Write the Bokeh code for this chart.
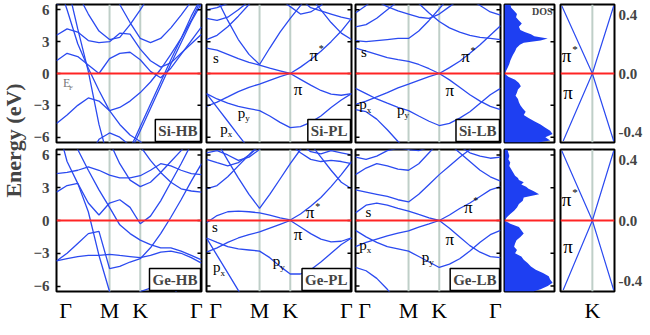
from bokeh.plotting import figure
from bokeh.layouts import row, column
from bokeh.models import Span, Label, FixedTicker, LinearAxis, PrintfTickFormatter
from bokeh.embed import file_html
from bokeh.resources import INLINE

# ---------------- data ----------------
K_PATH = [0.0, 0.115, 0.231, 0.346, 0.462, 0.577, 0.688, 0.800, 0.911,
          1.022, 1.133, 1.244, 1.355, 1.466, 1.577]
K_M, K_K, K_END = 0.577, 0.911, 1.577
HS_TICKS = [0.10, 0.577, 0.911, 1.52]
HS_LABELS = ["Γ", "M", "K", "Γ"]
E_TICKS = [-6, -3, 0, 3, 6]
E_LIM = 6.5

SI_HB = [
    [10, 8.5, 4.2, 0.2, -4.8, -8.5, -9, -9, -9, -9, -9, -9, -9, -9, -9],
    [1.2, 1.9, 1.6, 0.8, 0.0, 1.4, 1.9, 2.0, 1.3, 0.2, -0.4, 0.5, 1.8, 3.1, 4.4],
    [3.6, 4.2, 3.9, 3.1, 2.9, 3.0, 3.8, 3.7, 2.3, 1.2, 0.6, 1.0, 1.9, 2.8, 3.7],
    [-4.7, -3.9, -3.0, -2.3, -2.6, -3.5, -3.2, -2.6, -1.8, -0.8, 0.4, 1.8, 3.3, 5.0, 7.0],
    [9, 6.0, 2.8, 0.5, -1.6, -3.5, -4.8, -5.8, -6.4, -7.5, -9, -9, -9, -9, -9],
    [-9, -9, -9, -9, -9, -9, -9, -7.1, -5.0, -2.9, -0.8, 1.3, 3.3, 5.4, 7.2],
    [-9, -9, -9, -9, -9, -9, -9, -7.5, -5.4, -3.3, -1.2, 0.9, 2.9, 4.9, 6.6],
    [6.5, 6.8, 7.5, 8.5, 9, 8, 6.5, 4.8, 3.3, 2.9, 3.3, 4.3, 5.5, 6.8, 8],
    [9, 9, 7.5, 5.6, 4.0, 3.2, 3.4, 4.6, 6.0, 7.5, 9, 9, 9, 9, 9],
    [-9, -9, -9, -8, -6.2, -5.6, -6.0, -6.8, -7.5, -9, -9, -9, -9, -9, -9],
]
SI_PL = [
    [2.4, 2.2, 1.8, 1.4, 1.05, 0.8, 0.5, 0.25, 0.0, 0.6, 1.3, 2.1, 3.0, 4.0, 5.2],
    [9, 7.0, 5.0, 3.2, 1.8, 0.85, 2.4, 3.9, 5.2, 6.4, 7.6, 9, 9, 9, 9],
    [-3.1, -2.7, -2.2, -1.7, -1.3, -1.0, -0.65, -0.3, 0.0, -0.55, -1.1, -1.6, -1.95, -2.05, -1.9],
    [-1.9, -2.4, -2.8, -3.1, -3.3, -3.5, -4.0, -4.6, -5.1, -5.0, -4.6, -4.0, -3.2, -2.5, -1.9],
    [-1.9, -3.2, -4.5, -5.8, -7.1, -8.4, -9.5, -9.5, -9.5, -9.5, -9.5, -9.5, -9.5, -9.5, -9.5],
    [3.2, 3.6, 4.4, 5.4, 6.5, 7.5, 8, 8, 8, 8, 7.2, 6.0, 4.8, 3.8, 3.2],
    [5.2, 5.0, 5.3, 6.0, 6.8, 7.5, 8, 8, 8, 7.0, 6.2, 5.9, 5.6, 5.3, 5.1],
    [6.0, 6.2, 6.6, 7.5, 8, 8, 8, 7.0, 6.3, 5.6, 5.8, 6.4, 7.5, 8, 8],
]
SI_LB = [
    [2.4, 2.1, 1.8, 1.5, 1.3, 1.15, 0.85, 0.45, 0.0, 0.55, 1.15, 1.9, 2.7, 3.6, 4.5],
    [3.1, 3.0, 3.1, 3.2, 3.3, 3.3, 4.0, 5.0, 6.1, 7.2, 8, 8, 8, 8, 8],
    [-2.9, -2.6, -2.2, -1.8, -1.35, -1.0, -0.65, -0.3, 0.0, -0.6, -1.3, -2.0, -2.6, -3.1, -3.4],
    [-1.4, -1.9, -2.4, -2.8, -3.2, -3.5, -4.0, -4.5, -4.9, -4.7, -4.2, -3.6, -2.8, -2.0, -1.4],
    [-3.4, -3.6, -4.3, -5.3, -6.4, -7.5, -9, -9, -9, -9, -9, -9, -9, -9, -9],
    [5.7, 6.4, 7.2, 8, 8, 8, 8, 8, 8, 8, 8, 8, 8, 8, 8],
    [8, 7, 6.8, 6.3, 5.9, 5.6, 5.3, 5.2, 5.6, 6.3, 7, 7, 6.4, 5.8, 5.5],
    [4.4, 4.6, 5.2, 6.0, 6.8, 7.5, 6.6, 5.7, 4.9, 4.3, 3.9, 3.6, 3.4, 3.3, 3.2],
]
GE_HB = [
    [4.3, 4.4, 4.6, 4.9, 4.6, 4.15, 3.9, 3.9, 4.1, 4.6, 5.2, 5.0, 4.6, 4.3, 4.2],
    [2.6, 3.2, 3.4, 1.6, 0.5, 1.6, 1.9, 1.2, -0.3, 0.4, 1.8, 3.5, 5.2, 7.0, 9.0],
    [-3.7, -3.0, -2.1, -1.2, -1.0, -4.4, -4.2, -3.8, -3.5, -2.5, -1.2, 0.3, 1.9, 3.6, 5.2],
    [9, 5.4, 3.4, 0.8, -3.2, -6.5, -9, -9, -9, -9, -9, -9, -9, -9, -9],
    [9, 8.2, 6.5, 4.6, 2.8, 1.2, -0.4, -1.2, -1.8, -2.2, -2.5, -2.5, -2.8, -3.2, -3.6],
    [6.6, 6.9, 7.5, 8, 8, 7.2, 5.2, 3.7, 3.1, 3.5, 4.4, 5.4, 6.4, 7.5, 9],
    [9, 9, 9, 9, 9, 9, 9, 8, 6.8, 5.5, 4.4, 3.5, 2.9, 2.7, 2.6],
    [-3.7, -3.5, -3.3, -3.2, -3.2, -3.1, -3.2, -3.3, -3.4, -3.2, -2.9, -2.8, -3.0, -3.4, -3.9],
    [-9, -9, -9, -9, -9, -9, -9, -9, -6.5, -6.2, -5.7, -6.0, -7, -9, -9],
]
GE_PL = [
    [-0.2, 0.45, 0.8, 0.85, 0.8, 0.7, 0.5, 0.25, 0.05, 0.6, 1.3, 2.1, 3.1, 4.2, 5.4],
    [9, 7.2, 5.5, 3.9, 2.4, 1.1, 2.4, 3.8, 5.2, 6.5, 7.8, 9, 9, 9, 9],
    [-2.9, -2.5, -2.0, -1.6, -1.3, -1.05, -0.7, -0.35, 0.0, -0.6, -1.2, -1.7, -1.95, -1.9, -1.6],
    [-1.6, -2.0, -2.4, -2.6, -2.7, -2.8, -3.4, -4.2, -4.9, -4.9, -4.5, -3.8, -3.0, -2.2, -1.6],
    [-1.6, -3.2, -4.8, -6.4, -8, -9.5, -9.5, -9.5, -9.5, -9.5, -9.5, -9.5, -9.5, -9.5, -9.5],
    [2.9, 3.2, 4.0, 5.0, 6.0, 7, 8, 8, 8, 8, 7, 5.8, 4.6, 3.5, 2.9],
    [5.6, 5.3, 5.0, 5.3, 6.0, 6.8, 7.5, 7.5, 7, 6.2, 5.6, 5.4, 5.5, 5.4, 5.2],
    [6.2, 6.4, 6.0, 5.5, 5.8, 6.5, 7.5, 8, 8, 7, 6.3, 6.1, 6.4, 6.2, 6.0],
]
GE_LB = [
    [0.7, 1.4, 1.6, 1.4, 1.1, 0.85, 0.55, 0.25, 0.0, 0.5, 1.1, 1.6, 2.2, 2.8, 3.1],
    [2.8, 2.6, 2.4, 2.2, 1.9, 1.7, 2.4, 3.3, 4.2, 5.0, 5.8, 6.5, 7.5, 8, 8],
    [-2.4, -2.0, -1.7, -1.4, -1.15, -0.95, -0.6, -0.3, 0.0, -0.7, -1.5, -2.3, -2.9, -3.3, -3.4],
    [-0.9, -1.5, -2.0, -2.4, -2.6, -2.8, -3.3, -3.8, -4.3, -4.0, -3.5, -2.8, -2.0, -1.3, -0.9],
    [-4.3, -4.6, -5.3, -6.3, -7.5, -9, -9, -9, -9, -9, -9, -9, -9, -9, -9],
    [4.2, 4.8, 5.2, 5.0, 4.7, 4.6, 5.2, 6.2, 7.2, 7, 6.2, 5.4, 4.6, 4.0, 3.6],
    [5.8, 5.6, 5.9, 6.4, 6.6, 6.5, 6.4, 6.7, 7.5, 7.5, 6.8, 6.2, 5.9, 5.7, 5.8],
]

DOS_E = [6.5, 6.2, 5.9, 5.6, 5.3, 5.0, 4.7, 4.4, 4.1, 3.9, 3.7, 3.5, 3.3, 3.1, 2.9,
         2.7, 2.4, 2.1, 1.8, 1.5, 1.2, 0.9, 0.6, 0.3, 0.0, -0.3, -0.6, -0.9, -1.2,
         -1.5, -1.8, -2.1, -2.4, -2.7, -3.0, -3.3, -3.6, -3.9, -4.2, -4.5, -4.8,
         -5.1, -5.4, -5.7, -6.0, -6.3, -6.5]
DOS_SI = [0.12, 0.14, 0.2, 0.26, 0.24, 0.3, 0.36, 0.3, 0.33, 0.42, 0.55, 0.62, 0.9,
          0.75, 0.4, 0.32, 0.25, 0.22, 0.18, 0.15, 0.12, 0.1, 0.07, 0.04, 0.0, 0.08,
          0.22, 0.3, 0.34, 0.28, 0.26, 0.23, 0.28, 0.3, 0.33, 0.38, 0.44, 0.4, 0.5,
          0.62, 0.75, 0.85, 0.95, 1.0, 0.85, 0.95, 0.7]
DOS_GE = [0.06, 0.08, 0.1, 0.08, 0.12, 0.1, 0.14, 0.18, 0.22, 0.28, 0.3, 0.4, 0.35,
          0.45, 0.5, 0.6, 0.72, 0.4, 0.38, 0.3, 0.26, 0.2, 0.12, 0.05, 0.0, 0.12,
          0.3, 0.35, 0.4, 0.33, 0.25, 0.22, 0.2, 0.26, 0.22, 0.35, 0.4, 0.48, 0.55,
          0.65, 0.8, 0.92, 0.95, 1.0, 0.9, 0.75, 0.6]

CONE_K = 0.18
CONE_K1 = [-0.95, 0.18, 0.97]
CONE_K2 = [0.97, 0.18, -0.9]
CONE_E = [0.46, 0.0, -0.46]
CONE_LIM = 0.47
CONE_TICKS = [-0.4, 0.0, 0.4]

# ---------------- style ----------------
BLUE = "#2b4af0"
FILL = "#1e3ff2"
RED = "#ff2424"
GRAY = "#bfcfc8"
SERIF = "Liberation Serif"


def new_fig(fw, fh, xr, yr, top, bottom, left, right):
    p = figure(frame_width=fw, frame_height=fh, x_range=xr, y_range=yr,
               toolbar_location=None, output_backend="svg",
               x_axis_location=None, y_axis_location=None,
               min_border_top=top, min_border_bottom=bottom,
               min_border_left=left, min_border_right=right)
    p.outline_line_color = "black"
    p.outline_line_width = 2
    p.outline_line_alpha = 1
    p.xgrid.grid_line_color = None
    p.ygrid.grid_line_color = None
    return p


def edge_ticks(p, edges):
    # short inward tick marks on the frame edges at the energy ticks
    for x in edges:
        p.scatter(x=[x] * len(E_TICKS), y=E_TICKS, marker="dash", size=8,
                  line_color="black", line_width=1.5)


def label_axis():
    return LinearAxis(ticker=FixedTicker(ticks=E_TICKS), major_tick_in=4, major_tick_out=0,
                      minor_tick_in=0, minor_tick_out=0, axis_line_color=None,
                      major_tick_line_color="black", major_tick_line_width=1.5,
                      major_label_text_font=SERIF, major_label_text_font_style="bold",
                      major_label_text_font_size="15px", major_label_standoff=7)


def k_axis(ticks, labels):
    return LinearAxis(ticker=FixedTicker(ticks=ticks), major_tick_in=0, major_tick_out=0,
                      minor_tick_in=0, minor_tick_out=0, axis_line_color=None,
                      major_label_standoff=6, major_label_text_font=SERIF,
                      major_label_text_font_size="22px", major_label_text_color="black",
                      major_label_overrides={t: s for t, s in zip(ticks, labels)})


def orb(p, base, x, y, sub=None, sup=None, size=15, color="black"):
    p.add_layout(Label(x=x, y=y, text=base, text_font=SERIF, text_font_size=f"{size}px",
                       text_baseline="middle", text_align="left", text_color=color))
    if sub:
        p.add_layout(Label(x=x, y=y, x_offset=size * 0.5, y_offset=-size * 0.38, text=sub,
                           text_font=SERIF, text_font_size=f"{int(size * 0.6)}px",
                           text_baseline="middle", text_align="left", text_color=color))
    if sup:
        p.add_layout(Label(x=x, y=y, x_offset=size * 0.55, y_offset=size * 0.38, text=sup,
                           text_font=SERIF, text_font_size=f"{int(size * 0.6)}px",
                           text_baseline="middle", text_align="left", text_color=color))


def band_panel(bands, name, fh, top, bottom, left, right, first, bottom_axis, labels):
    p = new_fig(145, fh, (0, K_END), (-E_LIM, E_LIM), top, bottom, left, right)
    for k in (K_M, K_K):
        p.add_layout(Span(location=k, dimension="height", line_color=GRAY,
                          line_width=2, level="underlay"))
    for b in bands:
        p.line(K_PATH, b, line_color=BLUE, line_width=1.3)
    p.add_layout(Span(location=0, dimension="width", line_color=RED, line_width=1.8))
    if first:
        p.add_layout(label_axis(), "left")
        edge_ticks(p, [K_END])
    else:
        edge_ticks(p, [0, K_END])
    if bottom_axis:
        p.add_layout(k_axis(HS_TICKS, HS_LABELS), "below")
    p.add_layout(Label(x=K_END, y=-E_LIM, x_offset=-1, y_offset=1, text=name,
                       text_font=SERIF, text_font_style="bold", text_font_size="15px",
                       text_align="right", text_baseline="bottom", padding=3,
                       background_fill_color="white", border_line_color="black",
                       border_line_width=1.5))
    for lab in labels:
        orb(p, *lab)
    return p


def dos_panel(vals, fh, top, bottom, show_label):
    p = new_fig(50, fh, (0, 1.04), (-E_LIM, E_LIM), top, bottom, 2, 3)
    p.harea(x1=0, x2=vals, y=DOS_E, fill_color=FILL, fill_alpha=1)
    p.add_layout(Span(location=0, dimension="width", line_color=RED, line_width=1.8))
    edge_ticks(p, [1.04])
    if show_label:
        p.add_layout(Label(x=1.0, y=6.4, text="DOS", text_font=SERIF, text_font_style="bold",
                           text_font_size="10px", text_align="right", text_baseline="top"))
    return p


def cone_panel(fh, top, bottom, pi_star_y, pi_y, bottom_axis):
    p = new_fig(54, fh, (-1, 1), (-CONE_LIM, CONE_LIM), top, bottom, 3, 29)
    p.add_layout(Span(location=CONE_K, dimension="height", line_color=GRAY,
                      line_width=2, level="underlay"))
    p.line(CONE_K1, CONE_E, line_color=BLUE, line_width=1.2)
    p.line(CONE_K2, CONE_E, line_color=BLUE, line_width=1.2)
    p.add_layout(Span(location=0, dimension="width", line_color=RED, line_width=1.8))
    ax = LinearAxis(ticker=FixedTicker(ticks=CONE_TICKS), formatter=PrintfTickFormatter(format="%.1f"),
                    major_tick_in=0, major_tick_out=0, minor_tick_in=0, minor_tick_out=0,
                    axis_line_color=None, major_label_standoff=4,
                    major_label_text_font=SERIF, major_label_text_font_style="bold",
                    major_label_text_font_size="15px")
    p.add_layout(ax, "right")
    if bottom_axis:
        p.add_layout(k_axis([CONE_K], ["K"]), "below")
    orb(p, "π", -0.95, pi_star_y, sup="*", size=19)
    orb(p, "π", -0.9, pi_y, size=19)
    return p


# ---------------- figures ----------------
H1, H2 = 138, 142
T1, B1, T2, B2 = 4, 3, 4, 34
r1 = [
    band_panel(SI_HB, "Si-HB", H1, T1, B1, 25, 2, True, False,
               [("E", 0.07, -0.9, "F", None, 12, "#777777")]),
    band_panel(SI_PL, "Si-PL", H1, T1, B1, 3, 2, False, False,
               [("s", 0.07, 1.45, None, None, 15), ("π", 1.12, 1.7, None, "*", 17),
                ("π", 0.95, -1.5, None, None, 17), ("p", 0.34, -3.7, "y", None, 15),
                ("p", 0.15, -5.2, "x", None, 15)]),
    band_panel(SI_LB, "Si-LB", H1, T1, B1, 2, 2, False, False,
               [("s", 0.06, 2.0, None, None, 15), ("π", 1.15, 1.6, None, "*", 17),
                ("π", 0.98, -1.6, None, None, 17), ("p", 0.04, -2.9, "x", None, 15),
                ("p", 0.45, -3.4, "y", None, 15)]),
    dos_panel(DOS_SI, H1, T1, B1, True),
    cone_panel(H1, T1, B1, 0.12, -0.13, False),
]
r2 = [
    band_panel(GE_HB, "Ge-HB", H2, T2, B2, 25, 2, True, True, []),
    band_panel(GE_PL, "Ge-PL", H2, T2, B2, 3, 2, False, True,
               [("s", 0.06, -0.6, None, None, 15), ("π", 1.08, 0.7, None, "*", 17),
                ("π", 0.95, -1.3, None, None, 17), ("p", 0.07, -4.3, "x", None, 15),
                ("p", 0.72, -3.7, "y", None, 15)]),
    band_panel(GE_LB, "Ge-LB", H2, T2, B2, 2, 2, False, True,
               [("s", 0.11, 0.8, None, None, 15), ("π", 1.18, 1.2, None, "*", 17),
                ("π", 0.98, -1.7, None, None, 17), ("p", 0.04, -2.2, "x", None, 15),
                ("p", 0.72, -3.3, "y", None, 15)]),
    dos_panel(DOS_GE, H2, T2, B2, False),
    cone_panel(H2, T2, B2, 0.14, -0.17, True),
]

TOTAL_H = (T1 + H1 + B1) + (T2 + H2 + B2)
lab = figure(width=30, height=TOTAL_H, title="Energy (eV)",
             title_location="left", toolbar_location=None, output_backend="svg",
             x_axis_location=None, y_axis_location=None, min_border_left=0,
             min_border_right=0, min_border_top=0, min_border_bottom=TOTAL_H - 280)
lab.outline_line_color = None
lab.xgrid.grid_line_color = None
lab.ygrid.grid_line_color = None
lab.title.text_font = SERIF
lab.title.text_font_size = "22px"
lab.title.text_font_style = "bold"
lab.title.align = "center"

layout = row(lab, column(row(*r1), row(*r2)))

open("out.html", "w").write(file_html(layout, INLINE))
